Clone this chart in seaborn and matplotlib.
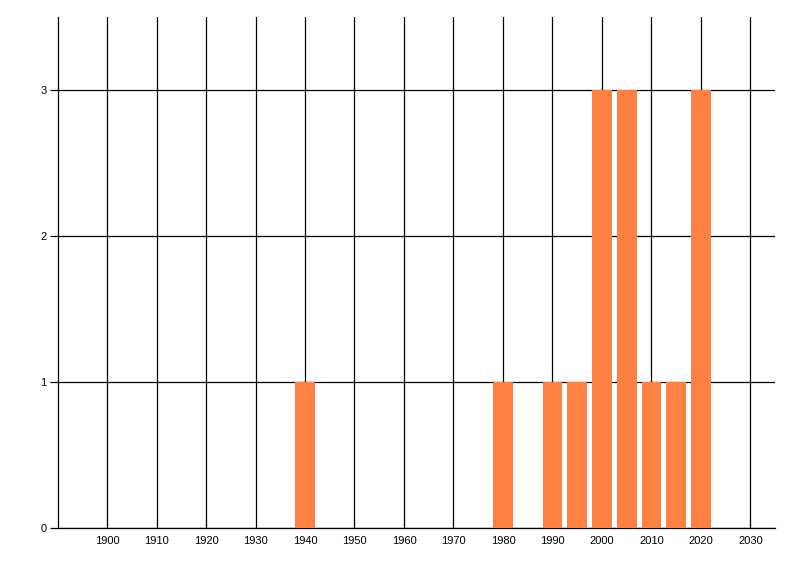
import matplotlib
matplotlib.use("Agg")
import matplotlib.pyplot as plt
import seaborn as sns
import pandas as pd

years = [1940, 1980, 1990, 1995, 2000, 2005, 2010, 2015, 2020]
counts = [1, 1, 1, 1, 3, 3, 1, 1, 3]
x_ticks = [1900, 1910, 1920, 1930, 1940, 1950, 1960, 1970, 1980, 1990, 2000, 2010, 2020, 2030]
y_ticks = [0, 1, 2, 3]

df = pd.DataFrame({"year": years, "count": counts})

sns.set_style("white")
plt.rcParams["font.family"] = ["Liberation Sans", "DejaVu Sans"]

fig = plt.figure(figsize=(8, 5.76), dpi=100)
ax = fig.add_axes([0.0719, 0.0833, 0.8971, 0.8872])

sns.barplot(data=df, x="year", y="count", native_scale=True, width=0.8,
            color="#FF8040", saturation=1, linewidth=0, ax=ax, zorder=3)

ax.set_xlim(1890, 2035)
ax.set_ylim(0, 3.5)
ax.set_xticks(x_ticks)
ax.set_xticklabels([str(t) for t in x_ticks])
ax.set_yticks(y_ticks)
ax.set_yticklabels([str(t) for t in y_ticks])
ax.set_xlabel("")
ax.set_ylabel("")

ax.grid(True, color="black", linewidth=0.9, zorder=1)
ax.set_axisbelow(True)
for side in ["top", "right"]:
    ax.spines[side].set_visible(False)
for side in ["left", "bottom"]:
    ax.spines[side].set_color("black")
    ax.spines[side].set_linewidth(0.9)

ax.tick_params(axis="x", length=0, pad=6, labelsize=8, colors="black")
ax.tick_params(axis="y", length=6, width=0.9, pad=2, labelsize=8, colors="black", left=True)

fig.savefig("out.png", dpi=100)
plt.close(fig)
